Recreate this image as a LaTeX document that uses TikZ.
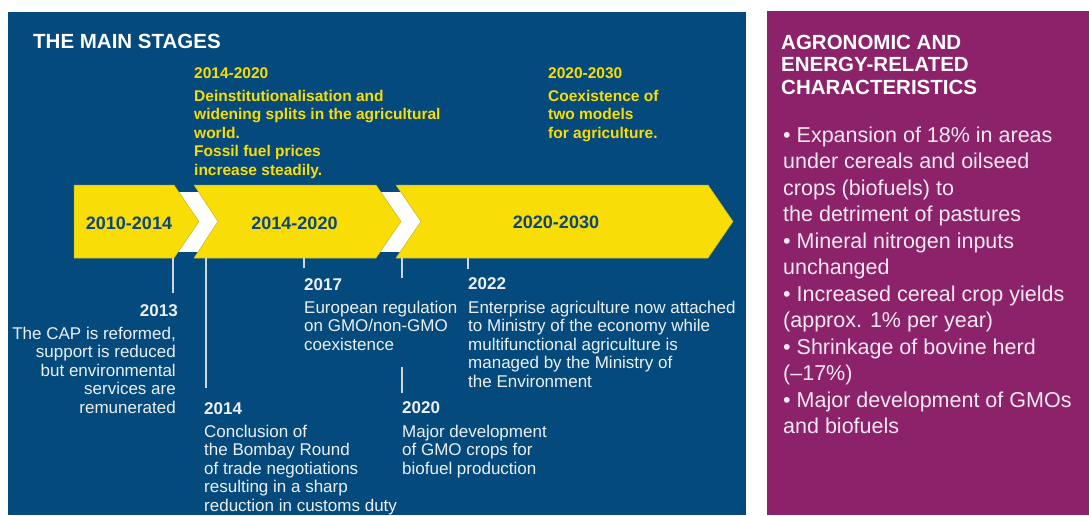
\documentclass[tikz,border=0pt]{standalone}
\usepackage{fontspec}
\setmainfont{Liberation Sans}
\definecolor{bgblue}{RGB}{4,74,124}
\definecolor{plum}{RGB}{139,34,106}
\definecolor{stageyellow}{RGB}{249,221,6}
\definecolor{stageedge}{RGB}{200,180,40}
\definecolor{lbldark}{RGB}{12,70,122}
\definecolor{bodytext}{RGB}{236,240,245}
\definecolor{rtext}{RGB}{246,232,242}
\definecolor{tickgray}{RGB}{205,214,226}
\begin{document}
\begin{tikzpicture}[x=1pt,y=-1pt,
  stage/.style={fill=stageyellow, draw=stageedge, line width=0.5pt},
  stagelbl/.style={inner sep=0pt, anchor=base, text=lbldark, font=\bfseries\fontsize{18}{20}\selectfont},
  tick/.style={draw=tickgray, line width=1.2pt},
  evyear/.style={inner sep=0pt, text=bodytext, font=\bfseries\fontsize{17}{18.5}\selectfont},
  evbody/.style={inner sep=0pt, align=left, text=bodytext, font=\fontsize{17}{18.5}\selectfont},
  yhead/.style={inner sep=0pt, text=stageyellow, font=\bfseries\fontsize{15.5}{18.5}\selectfont},
  ybody/.style={inner sep=0pt, align=left, text=stageyellow, font=\bfseries\fontsize{15.5}{18.5}\selectfont},
  whead/.style={inner sep=0pt, align=left, text=white, font=\bfseries\fontsize{20.5}{22.5}\selectfont},
  rbody/.style={inner sep=0pt, align=left, text=rtext, font=\fontsize{21.5}{26.5}\selectfont}
]
\useasboundingbox (0,0) rectangle (1089,515);
\fill[white] (0,0) rectangle (1089,515);
\fill[bgblue] (8,12) rectangle (746,515);
\fill[plum] (767,11) rectangle (1089,515);

% white ribbon behind the stages
\fill[white] (150,192) rectangle (425,252);

% stage arrows
\path[stage] (74,185) -- (174,185) -- (199,221.5) -- (174,258) -- (74,258) -- cycle;
\path[stage] (194,185) -- (376,185) -- (401,221.5) -- (376,258) -- (194,258) -- (218,221.5) -- cycle;
\path[stage] (396,185) -- (708,185) -- (733,221.5) -- (708,258) -- (396,258) -- (421,221.5) -- cycle;
\node[stagelbl] (s1) at (129,229) {2010-2014};
\node[stagelbl] (s2) at (294.5,229) {2014-2020};
\node[stagelbl] (s3) at (556,228.5) {2020-2030};

% titles
\node[whead, anchor=base west] (title) at (33,48) {THE MAIN STAGES};
\node[yhead, anchor=base west] (p2y) at (194,78) {2014-2020};
\node[ybody, anchor=north west] (p2t) at (194,89) {\rule{0pt}{12pt}Deinstitutionalisation and\\widening splits in the agricultural\\world.\\Fossil fuel prices\\increase steadily.};
\node[yhead, anchor=base west] (p3y) at (548,78) {2020-2030};
\node[ybody, anchor=north west] (p3t) at (548,89) {\rule{0pt}{12pt}Coexistence of\\two models\\for agriculture.};

% events
\node[evyear, anchor=base east] (y13) at (178,316) {2013};
\node[evbody, align=right, anchor=north east] (b13) at (176,326) {\rule{0pt}{13pt}The CAP is reformed,\\support is reduced\\but environmental\\services are\\remunerated};
\node[evyear, anchor=base west] (y14) at (204,414) {2014};
\node[evbody, anchor=north west] (b14) at (204,424) {\rule{0pt}{13pt}Conclusion of\\the Bombay Round\\of trade negotiations\\resulting in a sharp\\reduction in customs duty};
\node[evyear, anchor=base west] (y17) at (304,290) {2017};
\node[evbody, anchor=north west] (b17) at (304,300) {\rule{0pt}{13pt}European regulation\\on GMO/non-GMO\\coexistence};
\node[evyear, anchor=base west] (y20) at (402,413) {2020};
\node[evbody, anchor=north west] (b20) at (402,424) {\rule{0pt}{13pt}Major development\\of GMO crops for\\biofuel production};
\node[evyear, anchor=base west] (y22) at (468,289) {2022};
\node[evbody, anchor=north west] (b22) at (468,300) {\rule{0pt}{13pt}Enterprise agriculture now attached\\to Ministry of the economy while\\multifunctional agriculture is\\managed by the Ministry of\\the Environment};

% ticks
\coordinate (k13a) at (173,258); \coordinate (k13b) at (173,293);
\coordinate (k14a) at (206,258); \coordinate (k14b) at (206,388);
\coordinate (k17a) at (304,258); \coordinate (k17b) at (304,268);
\coordinate (k20a) at (402,258); \coordinate (k20b) at (402,278);
\coordinate (k20c) at (402,367); \coordinate (k20d) at (402,393);
\coordinate (k22a) at (468,258); \coordinate (k22b) at (468,269);
\draw[tick] (k13a) -- (k13b);
\draw[tick] (k14a) -- (k14b);
\draw[tick] (k17a) -- (k17b);
\draw[tick] (k20a) -- (k20b);
\draw[tick] (k20c) -- (k20d);
\draw[tick] (k22a) -- (k22b);

% right panel
\node[whead, anchor=north west] (rh) at (781,33) {\rule{0pt}{16pt}AGRONOMIC AND\\ENERGY-RELATED\\CHARACTERISTICS};
\node[rbody, anchor=north west] (rb) at (783,125) {\rule{0pt}{17pt}• Expansion of 18\% in areas\\under cereals and oilseed\\crops (biofuels) to\\the detriment of pastures\\• Mineral nitrogen inputs\\unchanged\\• Increased cereal crop yields\\(approx. 1\% per year)\\• Shrinkage of bovine herd\\(–17\%)\\• Major development of GMOs\\and biofuels};
\end{tikzpicture}
\end{document}
